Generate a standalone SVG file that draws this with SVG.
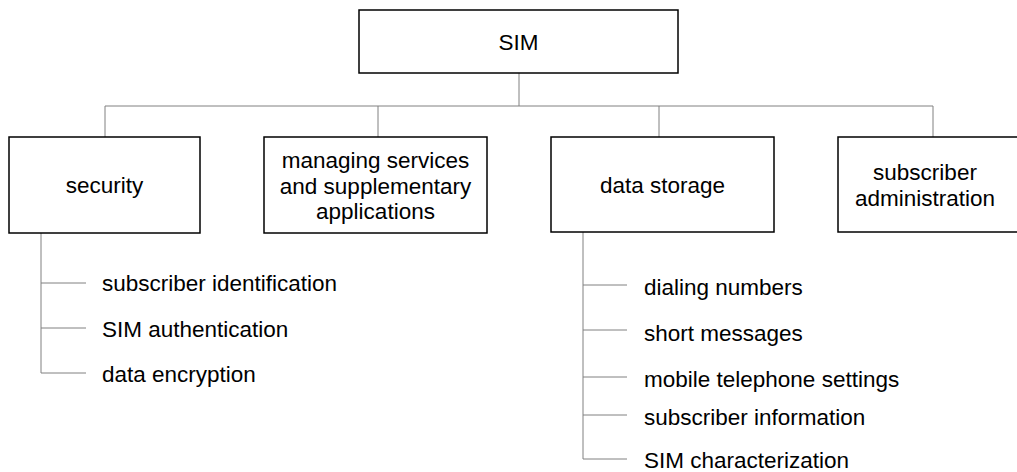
<svg xmlns="http://www.w3.org/2000/svg" width="1017" height="472" viewBox="0 0 1017 472">
<style>
.box{fill:#fff;stroke:#000;stroke-width:1.5}
.c{fill:none;stroke:#808080;stroke-width:1}
text{font-family:"Liberation Sans",Arial,sans-serif;font-size:22.5px;fill:#000}
.m{text-anchor:middle}
</style>
<rect width="1017" height="472" fill="#fff"/>
<g id="connectors">
<path class="c" d="M519 73V106M105 106H933M105 106V137M378 106V137M659 106V137M933 106V137"/>
<path class="c" d="M41 233V373M41 283H86M41 328H86M41 373H86"/>
<path class="c" d="M583 232V459M583 285H627M583 330H627M583 377H627M583 415H627M583 459H627"/>
</g>
<g id="sim"><rect class="box" x="359" y="10" width="319" height="63"/><text class="m" x="518.5" y="50">SIM</text></g>
<g id="security"><rect class="box" x="9" y="137" width="191" height="96"/><text class="m" x="104.5" y="193">security</text></g>
<g id="managing"><rect class="box" x="264" y="137" width="223" height="96"/><text class="m" x="375.5" y="168">managing services</text><text class="m" x="375.5" y="194">and supplementary</text><text class="m" x="375.5" y="219">applications</text></g>
<g id="datastorage"><rect class="box" x="551" y="137" width="223" height="95"/><text class="m" x="662.5" y="193">data storage</text></g>
<g id="subadmin"><rect class="box" x="838" y="137" width="190" height="95"/><text class="m" x="925" y="180">subscriber</text><text class="m" x="925" y="206">administration</text></g>
<g id="security-items">
<text x="102" y="291">subscriber identification</text>
<text x="102" y="337">SIM authentication</text>
<text x="102" y="382">data encryption</text>
</g>
<g id="storage-items">
<text x="644" y="295">dialing numbers</text>
<text x="644" y="341">short messages</text>
<text x="644" y="387">mobile telephone settings</text>
<text x="644" y="425">subscriber information</text>
<text x="644" y="468">SIM characterization</text>
</g>
</svg>
